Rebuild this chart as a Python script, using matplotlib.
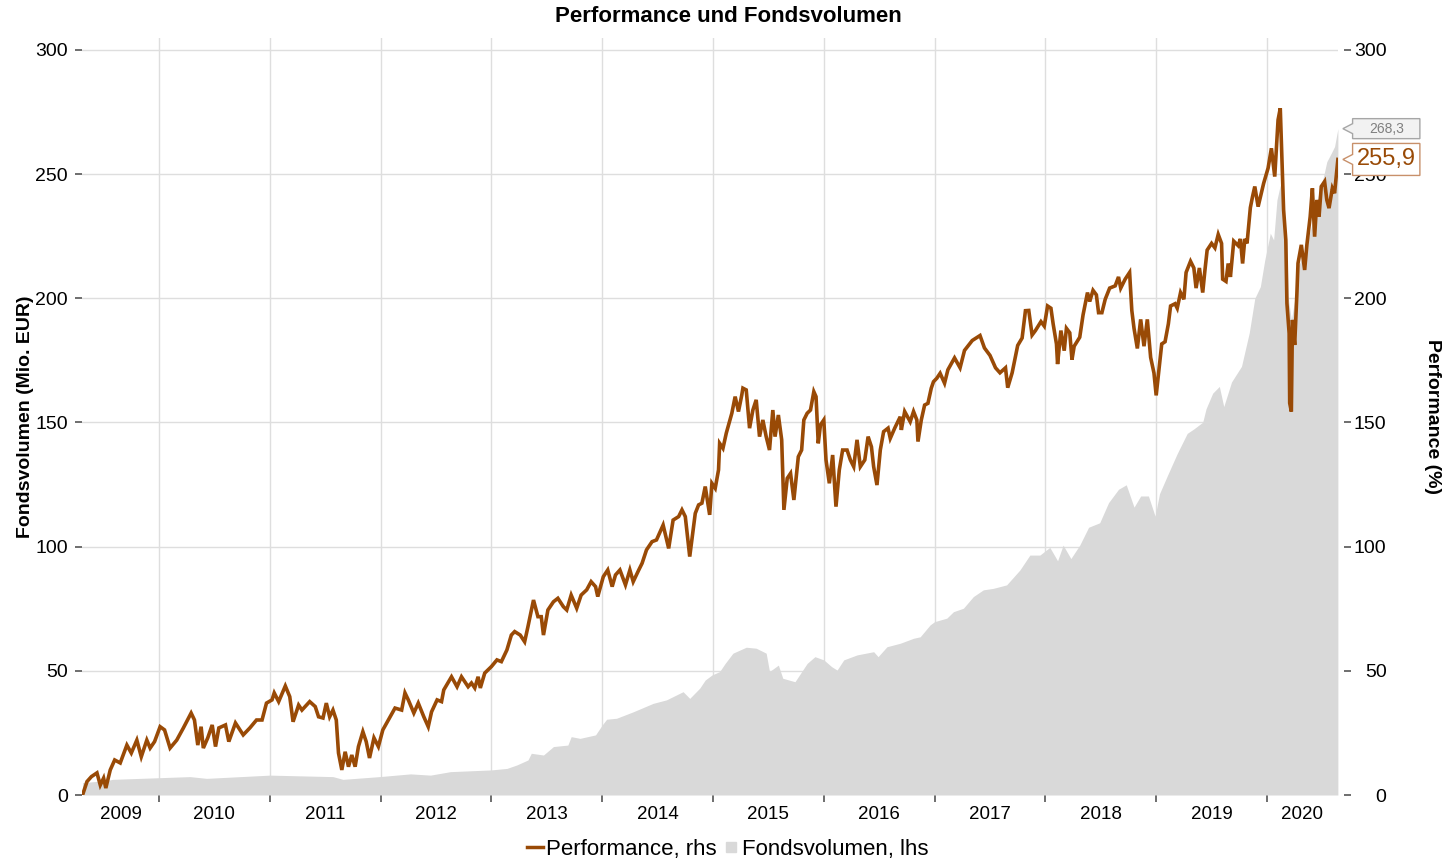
import matplotlib
matplotlib.use("Agg")
import matplotlib.pyplot as plt
import matplotlib.transforms as mtransforms
from matplotlib.lines import Line2D
from matplotlib.patches import Polygon

plt.rcParams['font.family'] = ['Liberation Sans', 'DejaVu Sans']

# time axis in decimal years
perf_t = [2009.31, 2009.35, 2009.39, 2009.44, 2009.47, 2009.50, 2009.52, 2009.56, 2009.60, 2009.65,
          2009.71, 2009.75, 2009.80, 2009.84, 2009.89, 2009.92, 2009.96, 2010.01, 2010.05, 2010.10,
          2010.16, 2010.22, 2010.29, 2010.32, 2010.35, 2010.38, 2010.40, 2010.44, 2010.48, 2010.51,
          2010.54, 2010.60, 2010.63, 2010.69, 2010.76, 2010.82, 2010.88, 2010.93, 2010.97, 2011.02,
          2011.04, 2011.08, 2011.14, 2011.18, 2011.21, 2011.26, 2011.29, 2011.36, 2011.41, 2011.44,
          2011.48, 2011.51, 2011.54, 2011.57, 2011.60, 2011.62, 2011.65, 2011.68, 2011.71, 2011.74,
          2011.77, 2011.80, 2011.84, 2011.87, 2011.90, 2011.94, 2011.98, 2012.02, 2012.08, 2012.13,
          2012.19, 2012.22, 2012.25, 2012.30, 2012.34, 2012.39, 2012.43, 2012.46, 2012.51, 2012.55,
          2012.57, 2012.64, 2012.69, 2012.73, 2012.79, 2012.82, 2012.85, 2012.88, 2012.90, 2012.94,
          2013.00, 2013.05, 2013.09, 2013.14, 2013.18, 2013.21, 2013.26, 2013.30, 2013.33, 2013.38,
          2013.42, 2013.45, 2013.47, 2013.51, 2013.56, 2013.60, 2013.65, 2013.68, 2013.72, 2013.77,
          2013.81, 2013.86, 2013.90, 2013.94, 2013.96, 2014.01, 2014.05, 2014.09, 2014.12, 2014.16,
          2014.21, 2014.25, 2014.28, 2014.33, 2014.36, 2014.40, 2014.45, 2014.49, 2014.51, 2014.55,
          2014.60, 2014.64, 2014.69, 2014.72, 2014.75, 2014.79, 2014.84, 2014.87, 2014.90, 2014.93,
          2014.97, 2014.99, 2015.02, 2015.05, 2015.06, 2015.09, 2015.12, 2015.17, 2015.20, 2015.23,
          2015.26, 2015.27, 2015.30, 2015.33, 2015.36, 2015.39, 2015.42, 2015.45, 2015.48, 2015.51,
          2015.54, 2015.56, 2015.59, 2015.62, 2015.64, 2015.67, 2015.70, 2015.73, 2015.77, 2015.80,
          2015.82, 2015.85, 2015.88, 2015.91, 2015.93, 2015.95, 2015.97, 2016.00, 2016.02, 2016.05,
          2016.08, 2016.11, 2016.14, 2016.17, 2016.21, 2016.24, 2016.27, 2016.30, 2016.33, 2016.37,
          2016.40, 2016.43, 2016.45, 2016.48, 2016.51, 2016.54, 2016.58, 2016.60, 2016.64, 2016.69,
          2016.70, 2016.73, 2016.78, 2016.81, 2016.84, 2016.85, 2016.88, 2016.91, 2016.94, 2016.97,
          2016.99, 2017.02, 2017.05, 2017.09, 2017.12, 2017.18, 2017.23, 2017.27, 2017.34, 2017.41,
          2017.45, 2017.50, 2017.55, 2017.59, 2017.64, 2017.66, 2017.70, 2017.75, 2017.79, 2017.82,
          2017.85, 2017.88, 2017.91, 2017.96, 2017.99, 2018.02, 2018.05, 2018.07, 2018.10, 2018.11,
          2018.14, 2018.17, 2018.19, 2018.22, 2018.24, 2018.26, 2018.31, 2018.34, 2018.38, 2018.40,
          2018.43, 2018.46, 2018.48, 2018.51, 2018.54, 2018.58, 2018.63, 2018.66, 2018.68, 2018.72,
          2018.76, 2018.78, 2018.80, 2018.83, 2018.86, 2018.89, 2018.92, 2018.95, 2018.98, 2019.00,
          2019.03, 2019.05, 2019.08, 2019.11, 2019.13, 2019.17, 2019.19, 2019.22, 2019.25, 2019.27,
          2019.31, 2019.34, 2019.36, 2019.39, 2019.42, 2019.44, 2019.46, 2019.50, 2019.53, 2019.56,
          2019.59, 2019.60, 2019.63, 2019.65, 2019.67, 2019.70, 2019.74, 2019.76, 2019.78, 2019.80,
          2019.82, 2019.85, 2019.87, 2019.89, 2019.92, 2019.97, 2020.01, 2020.04, 2020.07, 2020.10,
          2020.12, 2020.15, 2020.17, 2020.18, 2020.20, 2020.205, 2020.22, 2020.23, 2020.25, 2020.27,
          2020.28, 2020.31, 2020.34, 2020.36, 2020.39, 2020.41, 2020.43, 2020.45, 2020.47, 2020.49,
          2020.52, 2020.54, 2020.56, 2020.59, 2020.61, 2020.64]
perf_v = [0.0, 5.4, 7.4, 8.9, 4.0, 6.8, 2.8, 10.1, 14.1, 12.9,
          20.1, 16.9, 22.1, 15.4, 22.1, 18.9, 21.5, 27.5, 26.2, 18.9,
          22.1, 27.0, 33.0, 30.2, 20.1, 27.5, 18.9, 23.0, 28.2, 19.5,
          27.0, 28.2, 21.5, 29.0, 24.2, 27.0, 30.2, 30.2, 37.0, 38.3,
          41.1, 37.6, 43.9, 39.6, 29.5, 36.2, 34.2, 37.6, 35.6, 31.5,
          31.0, 37.0, 31.5, 34.2, 30.2, 16.9, 10.1, 17.4, 11.4, 16.1,
          11.4, 19.5, 25.5, 21.5, 14.9, 23.0, 19.5, 26.2, 31.0, 35.0,
          34.2, 41.1, 38.3, 33.0, 37.0, 31.5, 27.5, 33.5, 38.3, 37.6,
          42.3, 47.6, 43.6, 47.6, 43.6, 45.1, 43.1, 47.6, 43.1, 49.1,
          51.7, 54.4, 53.7, 58.4, 64.4, 65.8, 64.4, 61.7, 67.8, 78.5,
          71.8, 71.8, 64.4, 74.5, 77.8, 79.2, 75.8, 74.5, 80.5, 75.2,
          80.5, 82.6, 85.9, 83.9, 79.9, 87.9, 90.6, 83.9, 88.6, 90.6,
          84.6, 90.6, 85.9, 90.6, 93.3, 98.7, 102.0, 102.7, 104.7, 108.7,
          99.3, 110.7, 112.1, 114.8, 112.1, 96.0, 113.4, 116.8, 117.5, 124.2,
          112.8, 125.5, 123.5, 130.9, 141.6, 139.6, 145.7, 153.7, 160.4, 154.4,
          161.1, 163.8, 163.1, 147.7, 155.0, 159.1, 144.3, 151.0, 144.3, 138.9,
          155.0, 144.3, 153.0, 143.0, 114.8, 127.5, 129.5, 118.8, 136.2, 138.9,
          151.0, 153.7, 155.0, 162.4, 160.4, 141.6, 149.0, 151.0, 134.9, 125.5,
          136.9, 116.1, 130.9, 138.9, 138.9, 134.9, 132.2, 143.0, 132.2, 134.9,
          144.3, 140.2, 132.2, 124.8, 138.9, 146.3, 147.7, 143.6, 147.7, 152.3,
          147.0, 154.4, 150.3, 154.4, 151.0, 142.3, 151.0, 157.0, 157.7, 163.8,
          166.4, 167.8, 169.8, 165.8, 171.2, 176.0, 172.0, 179.0, 183.0, 185.0,
          180.0, 177.0, 172.0, 170.0, 172.0, 164.0, 170.0, 181.0, 184.0, 195.0,
          195.1, 185.2, 187.0, 190.6, 188.8, 196.9, 196.0, 189.7, 181.6, 173.5,
          187.0, 178.9, 187.9, 186.1, 175.3, 180.7, 184.3, 193.3, 202.3, 198.7,
          203.2, 201.4, 194.2, 194.2, 199.6, 204.1, 205.0, 208.6, 204.1, 207.7,
          210.4, 195.1, 187.9, 179.8, 191.5, 180.7, 191.5, 176.2, 169.9, 160.9,
          173.5, 181.6, 182.5, 189.7, 196.9, 197.8, 196.0, 202.3, 199.6, 210.4,
          214.9, 212.2, 204.1, 212.2, 202.3, 211.3, 219.4, 222.1, 220.3, 225.7,
          222.1, 207.7, 206.8, 214.0, 208.6, 223.0, 221.2, 223.9, 214.0, 223.9,
          222.1, 236.5, 241.0, 245.0, 236.9, 246.3, 252.4, 260.4, 249.0, 271.8,
          276.5, 235.6, 223.5, 198.0, 185.9, 157.8, 154.4, 191.3, 181.2, 202.0,
          214.1, 221.5, 211.4, 221.5, 232.9, 244.3, 224.8, 239.6, 232.9, 245.0,
          247.0, 239.6, 236.3, 244.3, 242.3, 255.9]

vol_t = [2009.31, 2009.53, 2009.58, 2010.28, 2010.43, 2011.00, 2011.57, 2011.66, 2011.99, 2012.27,
         2012.45, 2012.63, 2013.00, 2013.14, 2013.23, 2013.33, 2013.36, 2013.47, 2013.56, 2013.69,
         2013.72, 2013.80, 2013.94, 2014.00, 2014.04, 2014.13, 2014.28, 2014.46, 2014.58, 2014.73,
         2014.79, 2014.88, 2014.93, 2014.99, 2015.06, 2015.11, 2015.18, 2015.30, 2015.39, 2015.48,
         2015.51, 2015.59, 2015.63, 2015.74, 2015.85, 2015.92, 2016.00, 2016.07, 2016.12, 2016.18,
         2016.30, 2016.45, 2016.49, 2016.57, 2016.69, 2016.81, 2016.87, 2016.96, 2017.00, 2017.11,
         2017.17, 2017.26, 2017.35, 2017.44, 2017.53, 2017.65, 2017.77, 2017.86, 2017.95, 2018.04,
         2018.11, 2018.16, 2018.23, 2018.31, 2018.39, 2018.49, 2018.57, 2018.66, 2018.73, 2018.80,
         2018.86, 2018.93, 2018.99, 2019.03, 2019.10, 2019.19, 2019.28, 2019.34, 2019.42, 2019.45,
         2019.51, 2019.57, 2019.61, 2019.68, 2019.77, 2019.84, 2019.89, 2019.94, 2019.98, 2020.03,
         2020.06, 2020.09, 2020.12, 2020.15, 2020.18, 2020.19, 2020.22, 2020.25, 2020.28, 2020.34,
         2020.40, 2020.46, 2020.51, 2020.54, 2020.58, 2020.61, 2020.64]
vol_v = [5.0, 5.8, 6.3, 7.4, 6.7, 8.0, 7.4, 6.3, 7.4, 8.5,
         8.0, 9.4, 10.1, 10.7, 12.1, 14.1, 16.8, 16.1, 19.5, 20.1,
         23.5, 22.8, 24.2, 28.2, 30.5, 30.9, 33.5, 36.9, 38.3, 41.6,
         38.9, 43.0, 46.3, 48.3, 49.7, 53.0, 57.1, 59.5, 59.1, 57.1,
         49.7, 52.3, 47.0, 45.6, 53.0, 55.7, 54.4, 51.7, 50.3, 54.4,
         56.4, 57.7, 55.7, 59.7, 61.1, 63.1, 63.7, 68.5, 69.8, 71.2,
         73.8, 75.2, 79.9, 82.6, 83.2, 84.6, 90.6, 96.6, 96.6, 99.7,
         94.3, 100.6, 95.2, 100.6, 107.8, 109.6, 117.7, 123.1, 124.9, 115.9,
         120.4, 120.4, 112.3, 121.3, 128.5, 137.5, 145.6, 147.4, 150.1, 155.5,
         161.8, 164.5, 156.4, 166.3, 172.6, 186.1, 200.0, 204.7, 215.4, 226.2,
         223.5, 239.6, 245.6, 235.6, 222.2, 200.7, 191.3, 199.3, 212.8, 218.1,
         228.9, 240.9, 249.0, 255.0, 258.4, 261.1, 268.3]

years = list(range(2009, 2021))
x_start, x_end = 2009.305, 2020.641

perf_color = '#994a06'
vol_color = '#d9d9d9'

fig = plt.figure(figsize=(14.49, 8.59), dpi=100)
ax = fig.add_axes([82 / 1449, 1 - 795 / 859, 1256 / 1449, 757 / 859])
ax2 = ax.twinx()

ax.fill_between(vol_t, 0, vol_v, color=vol_color, lw=0, zorder=2)
ax2.plot(perf_t, perf_v, color=perf_color, lw=2.6, solid_joinstyle='miter')

for a in (ax, ax2):
    a.set_xlim(x_start, x_end)
    a.set_ylim(0, 304.8)
    a.set_yticks(range(0, 301, 50))
    for s in a.spines.values():
        s.set_visible(False)
ax2.spines['right'].set_position(('outward', 4))

ax.set_axisbelow(True)
ax.grid(True, color='#dedede', lw=1.0, zorder=0)

# year boundaries as ticks, year labels centred in each visible span
bounds = years[1:]
centers = []
for y in years:
    lo, hi = max(y, x_start), min(y + 1, x_end)
    centers.append((lo + hi) / 2)
ax.set_xticks(bounds)
ax.set_xticklabels([])
ax.set_xticks(centers, minor=True)
ax.set_xticklabels([str(y) for y in years], minor=True)
ax.tick_params(axis='x', which='major', length=5, width=1.2, color='#555555')
ax.tick_params(axis='x', which='minor', length=0, pad=8, labelsize=13.5)
ax.tick_params(axis='y', length=5, width=1.2, color='#555555', labelsize=14, pad=5)
ax2.tick_params(axis='y', length=5, width=1.2, color='#555555', labelsize=14, pad=26)
for lab in ax2.get_yticklabels():
    lab.set_ha('right')

ax.set_ylabel('Fondsvolumen (Mio. EUR)', fontsize=14, fontweight='bold')
ax.yaxis.set_label_coords(-0.0385, 0.5)
ax2.set_ylabel('Performance (%)', fontsize=14, fontweight='bold', rotation=270, va='center')
ax2.yaxis.set_label_coords(1.0756, 0.5)

fig.text(0.5028, 1 - 16 / 859, 'Performance und Fondsvolumen', ha='center', va='center',
         fontsize=16, fontweight='bold')


def callout(axis, xv, yv, text, h, fsize, tcolor, ecolor, fcolor):
    # box with a "<" notch pointing at the last value, sizes in pixels
    trans = fig.dpi_scale_trans + mtransforms.ScaledTranslation(xv, yv, axis.transData)
    p = lambda dx, dy: (dx / 100.0, -dy / 100.0)
    hh = h / 2.0
    pts = [p(5, 0), p(14.7, -5), p(14.7, -hh), p(82, -hh), p(82, hh), p(14.7, hh), p(14.7, 5)]
    poly = Polygon(pts, closed=True, transform=trans, facecolor=fcolor, edgecolor=ecolor,
                   lw=1.0, clip_on=False, zorder=5)
    axis.add_patch(poly)
    axis.text(*p(48.3, 0), text, transform=trans, ha='center', va='center', fontsize=fsize,
              color=tcolor, clip_on=False, zorder=6)


callout(ax, vol_t[-1], vol_v[-1], f"{vol_v[-1]:.1f}".replace('.', ','), 20, 10,
        '#808080', '#a6a6a6', '#f2f2f2')
callout(ax2, perf_t[-1], perf_v[-1], f"{perf_v[-1]:.1f}".replace('.', ','), 32, 17,
        perf_color, '#c8906a', 'white')

handles = [Line2D([], [], color=perf_color, lw=2.5),
           Line2D([], [], color=vol_color, marker='s', markersize=7, linestyle='none')]
fig.legend(handles, ['Performance, rhs', 'Fondsvolumen, lhs'], loc='center',
           bbox_to_anchor=(0.5024, 1 - 849 / 859), ncol=2, frameon=False, fontsize=16,
           handlelength=0.7, handletextpad=0.15, columnspacing=0.3, borderaxespad=0)

fig.savefig('out.png', dpi=100)
